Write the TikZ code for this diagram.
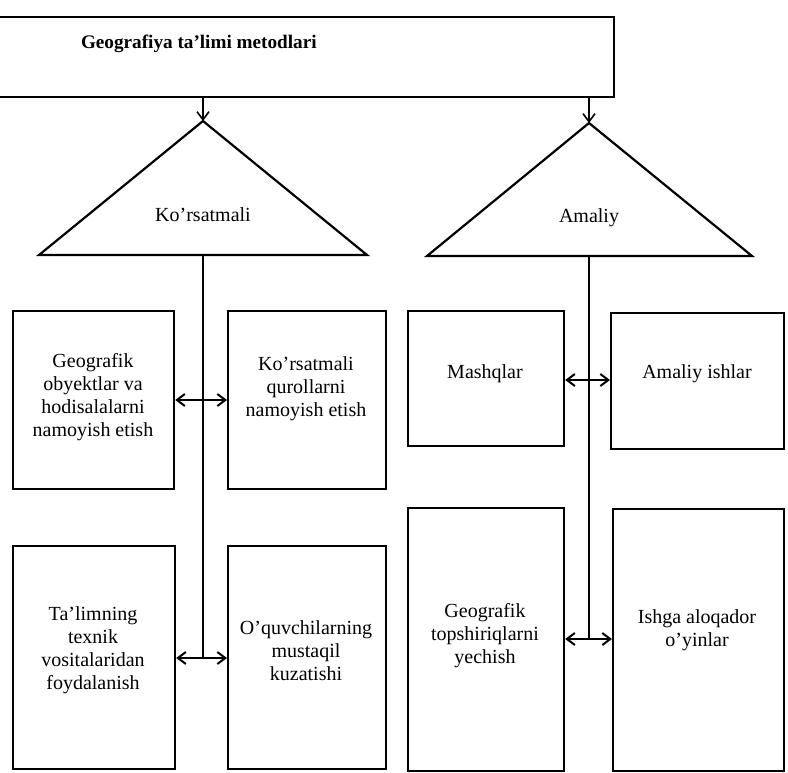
\documentclass[tikz,border=0pt]{standalone}
\usepackage{fontspec}
\setmainfont{Liberation Serif}
\usetikzlibrary{arrows.meta}
\begin{document}
\begin{tikzpicture}[x=1pt,y=-1pt,
  line width=2pt,
  box/.style={draw, line width=2.2pt, inner sep=0pt, anchor=north west},
  lbl/.style={font=\fontsize{20}{23}\selectfont, align=center, inner sep=0pt},
  arr/.style={-{Straight Barb[length=8pt,width=12pt,line width=1.6pt]}, line width=1.8pt},
  darr/.style={{Straight Barb[length=8pt,width=12pt,line width=2pt]}-{Straight Barb[length=8pt,width=12pt,line width=2pt]}, line width=2.6pt}]
\useasboundingbox (0,0) rectangle (788,772);
% top frame
\node[minimum width=612pt, minimum height=78pt, inner sep=0pt, anchor=north west] (top) at (0,17) {};
\draw[line width=2.4pt] (top.north west) -- (top.north east) -- (top.south east) -- (top.south west);
\node[font=\fontsize{19.2}{22}\selectfont\bfseries, anchor=west, inner sep=0pt] (title) at (80,44) {Geografiya ta’limi metodlari};
% triangles
\coordinate (la) at (203,121);
\coordinate (lb) at (203,255);
\coordinate (ra) at (589,123);
\coordinate (rb) at (589,256);
\draw[line width=2.2pt, line join=miter] (la) -- (367,255) -- (39,255) -- cycle;
\draw[line width=2.2pt, line join=miter] (ra) -- (752,256) -- (427,256) -- cycle;
\node[lbl] (kor) at (203,215) {Ko’rsatmali};
\node[lbl] (ama) at (589,218) {Amaliy};
\draw[arr] (la |- top.south) -- (la);
\draw[arr] (ra |- top.south) -- (ra);
% boxes
\node[box, minimum width=161pt, minimum height=178pt] (b1) at (12,310) {};
\node[box, minimum width=158pt, minimum height=178pt] (b2) at (227,310) {};
\node[box, minimum width=162pt, minimum height=223pt] (b3) at (12,545) {};
\node[box, minimum width=158pt, minimum height=223pt] (b4) at (227,545) {};
\node[box, minimum width=156pt, minimum height=135pt] (b5) at (407,310) {};
\node[box, minimum width=173pt, minimum height=136pt] (b6) at (610,312) {};
\node[box, minimum width=156pt, minimum height=263pt] (b7) at (407,507) {};
\node[box, minimum width=171pt, minimum height=262pt] (b8) at (612,508) {};
% texts
\node[lbl] (t1) at (93,397) {Geografik\\obyektlar va\\hodisalalarni\\namoyish etish};
\node[lbl] (t2) at (306,389) {Ko’rsatmali\\qurollarni\\namoyish etish};
\node[lbl] (t3) at (93,650) {Ta’limning\\texnik\\vositalaridan\\foydalanish};
\node[lbl] (t4) at (306,651) {O’quvchilarning\\mustaqil\\kuzatishi};
\node[lbl] (t5) at (485,374) {Mashqlar};
\node[lbl] (t6) at (697,374) {Amaliy ishlar};
\node[lbl] (t7) at (485,636) {Geografik\\topshiriqlarni\\yechish};
\node[lbl] (t8) at (697,630) {Ishga aloqador\\o’yinlar};
% spine lines
\coordinate (lend) at (203,658);
\coordinate (rend) at (589,639);
\draw[line width=2.2pt] (lb) -- (lend);
\draw[line width=2.2pt] (rb) -- (rend);
% double arrows
\draw[darr] (b1.east |- 0,400) -- (b2.west |- 0,400);
\draw[darr] (b3.east |- lend) -- (b4.west |- lend);
\draw[darr] (b5.east |- 0,380) -- (b6.west |- 0,380);
\draw[darr] (b7.east |- rend) -- (b8.west |- rend);
\end{tikzpicture}
\end{document}
